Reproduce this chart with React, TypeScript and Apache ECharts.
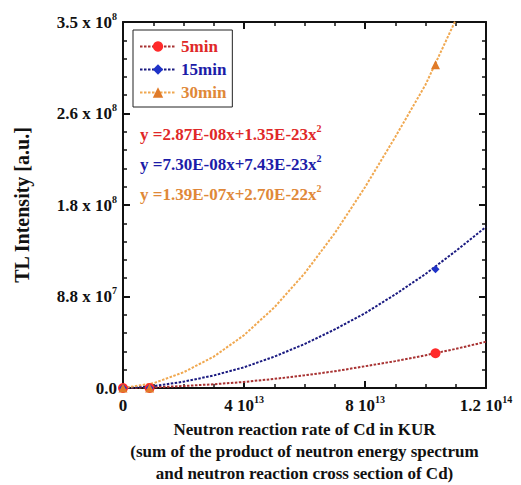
import React, { useEffect, useRef } from "react";
import * as echarts from "echarts";

// Measured points: neutron reaction rate vs TL intensity
const pointX = [0, 8.8e12, 1.033e14];
const points5 = [0, 0, 3.32e7];
const points15 = [0, 0, 1.135e8];
const points30 = [0, 0, 3.09e8];

// Fitted curves sampled along the reaction-rate axis
const curveX = [0, 1e13, 2e13, 3e13, 4e13, 5e13, 6e13, 7e13, 8e13, 9e13, 10e13, 11e13, 12e13];
const fit5 = [0, 0.06e7, 0.19e7, 0.36e7, 0.58e7, 0.87e7, 1.21e7, 1.6e7, 2.08e7, 2.57e7, 3.13e7, 3.74e7, 4.42e7];
const fit15 = [0, 0.18e7, 0.6e7, 1.2e7, 1.98e7, 3.0e7, 4.2e7, 5.6e7, 7.15e7, 8.95e7, 10.9e7, 13.1e7, 15.4e7];
const fit30 = [0, 0.45e7, 1.5e7, 3.0e7, 5.05e7, 7.7e7, 10.95e7, 14.8e7, 19.2e7, 24.0e7, 29.0e7, 35.2e7, 41.5e7];

const seriesNames = ["5min", "15min", "30min"];
const fitLabels = [
  ["y =2.87E-08x+1.35E-23x", "2"],
  ["y =7.30E-08x+7.43E-23x", "2"],
  ["y =1.39E-07x+2.70E-22x", "2"],
];

// Tick labels: mantissa and power of ten
const xTickMantissa = ["0", "4", "8", "1.2"];
const xTickExp = ["", "13", "13", "14"];
const yTickMantissa = ["0.0", "8.8", "1.8", "2.6", "3.5"];
const yTickExp = ["", "7", "8", "8", "8"];

const FONT = "Liberation Serif";

const pair = (xs: number[], ys: number[]) => xs.map((x, i) => [x, ys[i]]);

export default function App() {
  const ref = useRef<HTMLDivElement>(null);

  useEffect(() => {
    if (!ref.current) return;
    const chart = echarts.init(ref.current, undefined, { renderer: "svg" });

    const lineColors = ["#a83232", "#1a1a80", "#f0a850"];
    const markColors = ["#ff2a2a", "#1e32c8", "#e07a28"];
    const textColors = ["#e02828", "#1c1ca8", "#e08838"];
    const symbols = ["circle", "diamond", "triangle"];
    const symbolSizes = [10, 8, 9];
    const fits = [fit5, fit15, fit30];
    const pts = [points5, points15, points30];

    const richTick = {
      b: { fontFamily: FONT, fontWeight: "bold", fontSize: 17, color: "#111", lineHeight: 22 },
      s: { fontFamily: FONT, fontWeight: "bold", fontSize: 10, color: "#111", verticalAlign: "top", lineHeight: 10 },
    };

    const xFmt = (v: number) => {
      const i = Math.round(v / 4e13);
      const m = xTickMantissa[i] ?? "";
      const e = xTickExp[i] ?? "";
      return e ? `{b|${m} 10}{s|${e}}` : `{b|${m}}`;
    };
    const yFmt = (v: number) => {
      const i = Math.round(v / 8.75e7);
      const m = yTickMantissa[i] ?? "";
      const e = yTickExp[i] ?? "";
      return e ? `{b|${m} x 10}{s|${e}}` : `{b|${m}}`;
    };

    const axisCommon = {
      type: "value",
      axisLine: { show: true, onZero: false, lineStyle: { color: "#111", width: 2 } },
      axisTick: { show: true, inside: true, length: 7, lineStyle: { color: "#111", width: 2 } },
      minorTick: { show: true, length: 4, lineStyle: { color: "#111", width: 1.5 } },
      splitLine: { show: false },
      minorSplitLine: { show: false },
    };

    const series: any[] = [];
    for (let k = 0; k < 3; k++) {
      series.push({
        name: seriesNames[k],
        type: "line",
        data: pair(curveX, fits[k]),
        symbol: symbols[k],
        symbolSize: symbolSizes[k],
        showSymbol: false,
        itemStyle: { color: markColors[k] },
        lineStyle: { color: lineColors[k], width: 2, type: [2.5, 1.5] },
        silent: true,
        z: 2,
      });
    }
    for (let k = 0; k < 3; k++) {
      series.push({
        name: seriesNames[k],
        type: "scatter",
        data: pair(pointX, pts[k]),
        symbol: symbols[k],
        symbolSize: symbolSizes[k],
        itemStyle: { color: markColors[k], opacity: 1 },
        silent: true,
        z: 3,
      });
    }

    chart.setOption({
      animation: false,
      backgroundColor: "#fff",
      textStyle: { fontFamily: FONT },
      grid: { left: 123, top: 22, right: 35, bottom: 97, containLabel: false, outerBoundsMode: "none" },
      legend: {
        left: 133,
        top: 30,
        orient: "vertical",
        borderColor: "#222",
        borderWidth: 1,
        padding: [8, 6, 6, 6],
        itemGap: 6,
        itemWidth: 36,
        itemHeight: 13,
        selectedMode: false,
        data: seriesNames.map((n, k) => ({
          name: n,
          textStyle: { color: textColors[k], fontFamily: FONT, fontWeight: "bold", fontSize: 17 },
        })),
      },
      xAxis: [
        {
          ...axisCommon,
          position: "bottom",
          min: 0,
          max: 1.2e14,
          interval: 4e13,
          minorTick: { ...axisCommon.minorTick, splitNumber: 4 },
          axisLabel: { show: true, margin: 6, formatter: xFmt, rich: richTick },
          name: "Neutron reaction rate of Cd in KUR\n(sum of the product of neutron energy spectrum\nand neutron reaction cross section of Cd)",
          nameLocation: "middle",
          nameGap: 26,
          nameTextStyle: { fontFamily: FONT, fontWeight: "bold", fontSize: 17, color: "#111", lineHeight: 22 },
        },
        {
          ...axisCommon,
          position: "top",
          min: 0,
          max: 1.2e14,
          interval: 4e13,
          minorTick: { ...axisCommon.minorTick, splitNumber: 4 },
          axisLabel: { show: false },
        },
      ],
      yAxis: [
        {
          ...axisCommon,
          position: "left",
          min: 0,
          max: 3.5e8,
          interval: 8.75e7,
          minorTick: { ...axisCommon.minorTick, splitNumber: 5 },
          axisLabel: { show: true, margin: 6, formatter: yFmt, rich: richTick },
          name: "TL Intensity [a.u.]",
          nameLocation: "middle",
          nameRotate: 90,
          nameGap: 91,
          nameTextStyle: { fontFamily: FONT, fontWeight: "bold", fontSize: 20, color: "#111" },
        },
        {
          ...axisCommon,
          position: "right",
          min: 0,
          max: 3.5e8,
          interval: 8.75e7,
          minorTick: { ...axisCommon.minorTick, splitNumber: 5 },
          axisLabel: { show: false },
        },
      ],
      graphic: fitLabels.map((t, k) => ({
        type: "text",
        left: 140,
        top: 123 + k * 30,
        silent: true,
        style: {
          text: `{m|${t[0]}}{s|${t[1]}}`,
          fill: textColors[k],
          rich: {
            m: { fontFamily: FONT, fontWeight: "bold", fontSize: 17, fill: textColors[k], lineHeight: 22 },
            s: { fontFamily: FONT, fontWeight: "bold", fontSize: 10, fill: textColors[k], verticalAlign: "top", lineHeight: 10 },
          },
        },
      })),
      series,
    });

    return () => chart.dispose();
  }, []);

  return (
    <div
      ref={ref}
      style={{ position: "fixed", left: 0, top: 0, width: 521, height: 485, background: "#fff" }}
    />
  );
}
